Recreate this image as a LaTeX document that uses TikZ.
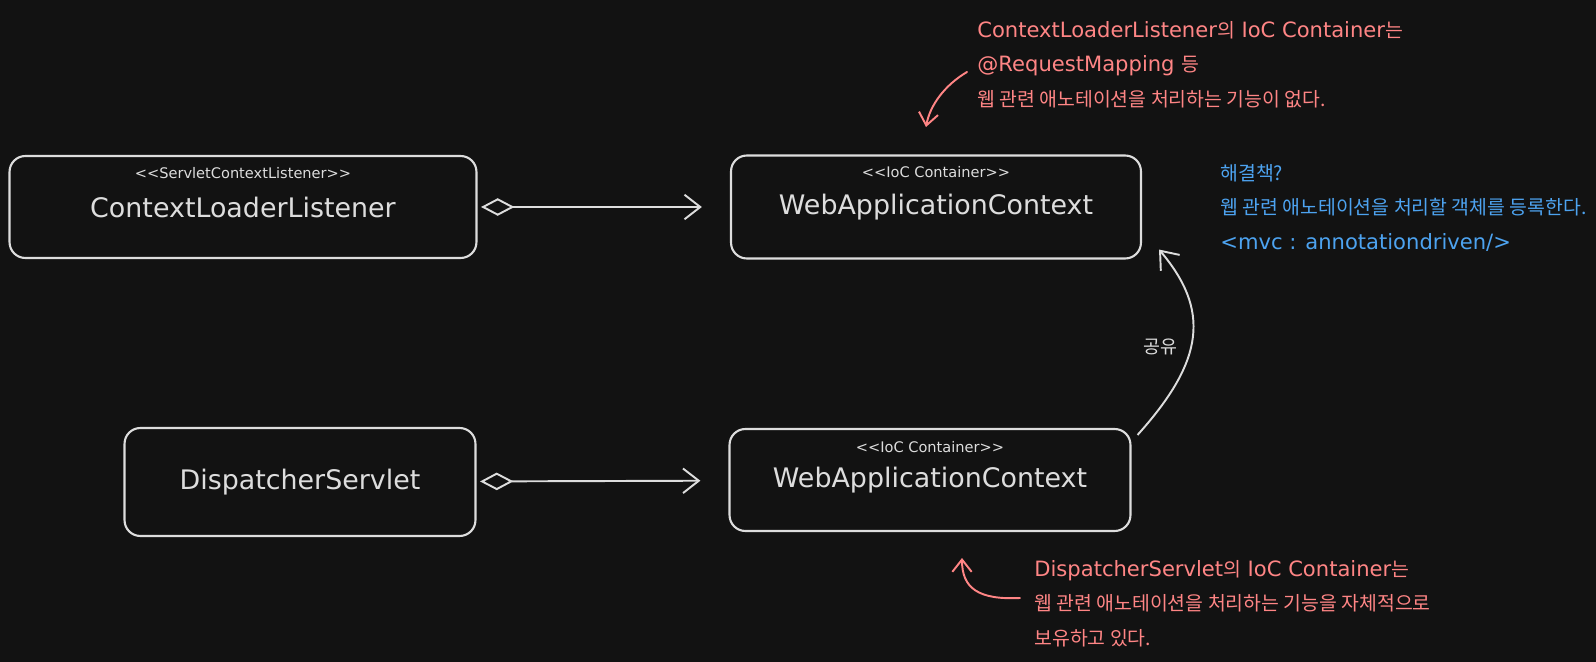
\documentclass[tikz,border=0pt]{standalone}
\usepackage{fontspec}
\setmainfont{DejaVu Sans}
\newfontfamily\kr[Scale=0.92]{Noto Sans CJK KR}
\usetikzlibrary{arrows.meta}
\definecolor{bg}{HTML}{121212}
\definecolor{ink}{HTML}{DDDDDD}
\definecolor{note}{HTML}{FF8585}
\definecolor{hint}{HTML}{4DA3F0}
\begin{document}
\begin{tikzpicture}[x=0.02cm,y=-0.02cm,
  box/.style={draw=ink,line width=1.2pt,rounded corners=9pt,text=ink,font=\fontsize{15.3}{18}\selectfont},
  stereo/.style={text=ink,font=\fontsize{8.3}{10}\selectfont},
  agg/.style={draw=ink,line width=1.1pt,{Diamond[open,length=19pt,width=10pt]}-{Straight Barb[length=9pt,width=14pt]},shorten <=2pt,shorten >=16pt},
  txt/.style={anchor=north west,align=left,inner sep=0pt,font=\fontsize{12}{19.6}\selectfont},
  pointer/.style={line width=1.1pt,line cap=round,-{Straight Barb[length=7pt,width=11pt]}}]
\fill[bg] (0,0) rectangle (1596,662);
\useasboundingbox (0,0) rectangle (1596,662);
% boxes
\node[box,minimum width=9.34cm,minimum height=2.04cm] (cll) at (243,207) {ContextLoaderListener};
\node[stereo] (cllS) at (243,173) {<{}<ServletContextListener>{}>};
\node[box,minimum width=8.2cm,minimum height=2.06cm] (wac1) at (936,207) {WebApplicationContext};
\node[stereo] (wac1S) at (936,172) {<{}<IoC Container>{}>};
\node[box,minimum width=7.02cm,minimum height=2.16cm] (ds) at (300,482) {DispatcherServlet};
\node[box,minimum width=8.02cm,minimum height=2.04cm] (wac2) at (930,480) {WebApplicationContext};
\node[stereo] (wac2S) at (930,447) {<{}<IoC Container>{}>};
% links
\draw[agg] (cll) -- (wac1);
\draw[agg] (ds) -- (wac2);
\draw[draw=ink,line width=1.1pt,-{Straight Barb[length=9pt,width=14pt]}] ([shift={(6,7)}]wac2.north east) .. controls (1205,360) and (1210,310) .. ([shift={(17,-10)}]wac1.south east);
\node[text=ink,font=\fontsize{11.4}{13}\kr] (share) at (1160,347) {공유};
% notes
\node[txt,text=note] (n1) at (977,21) {ContextLoaderListener{\kr 의} IoC Container{\kr 는}\\@RequestMapping {\kr 등}\\{\kr 웹 관련 애노테이션을 처리하는 기능이 없다.}};
\node[txt,text=hint] (n2) at (1220,164) {{\kr 해결책?}\\{\kr 웹 관련 애노테이션을 처리할 객체를 등록한다.}\\<mvc : annotationdriven/>};
\node[txt,text=note] (n3) at (1034,560) {DispatcherServlet{\kr 의} IoC Container{\kr 는}\\{\kr 웹 관련 애노테이션을 처리하는 기능을 자체적으로}\\{\kr 보유하고 있다.}};
\coordinate (p1) at (967,72);
\coordinate (t1) at (926,127);
\coordinate (p3) at (1020,598);
\coordinate (t3) at (962,558);
\draw[pointer,note] (p1) .. controls (945,85) and (930,105) .. (t1);
\draw[pointer,note] (p3) .. controls (978,600) and (962,588) .. (t3);
\end{tikzpicture}
\end{document}
